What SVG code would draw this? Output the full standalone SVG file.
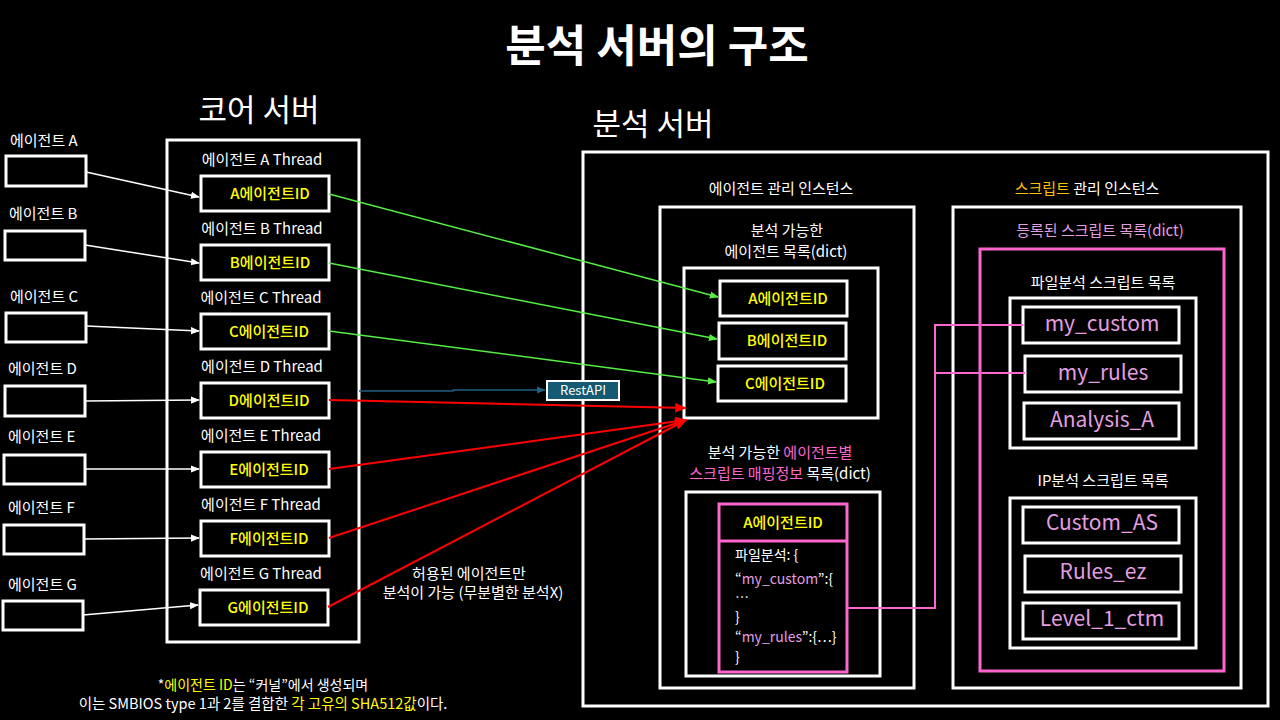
<svg xmlns="http://www.w3.org/2000/svg" width="1280" height="720" viewBox="0 0 1280 720">
<defs>
<style>
text{font-family:"Noto Sans CJK KR","Noto Sans",sans-serif;fill:#fff;}
.box{fill:#000;stroke:#fff;stroke-width:3;}
.pbox{fill:none;stroke:#ff66cc;stroke-width:3;}
.lbl{font-size:15px;}
.mid{text-anchor:middle;}
.yid{font-size:15px;fill:#ffff00;text-anchor:middle;font-weight:500;}
.scr{font-size:21px;fill:#e29ee0;text-anchor:middle;}
.plum{fill:#e29ee0;}
.pink{fill:#ff66cc;}
.code{font-size:14px;}
</style>
<marker id="aw" viewBox="0 0 10 10" refX="9" refY="5" markerWidth="6" markerHeight="6" orient="auto"><path d="M0,1 L10,5 L0,9 z" fill="#fff"/></marker>
<marker id="ag" viewBox="0 0 10 10" refX="9" refY="5" markerWidth="6" markerHeight="6" orient="auto"><path d="M0,1 L10,5 L0,9 z" fill="#55ee44"/></marker>
<marker id="ar" viewBox="0 0 10 10" refX="9" refY="5" markerWidth="6" markerHeight="6" orient="auto"><path d="M0,1 L10,5 L0,9 z" fill="#ff0000"/></marker>
<marker id="ab" viewBox="0 0 10 10" refX="9" refY="5" markerWidth="6" markerHeight="6" orient="auto"><path d="M0,1 L10,5 L0,9 z" fill="#1f5f80"/></marker>
</defs>
<rect width="1280" height="720" fill="#000"/>

<text x="657" y="62" class="mid" font-size="44" font-weight="700">분석 서버의 구조</text>

<g id="core-server">
<text x="259" y="121" class="mid" font-size="31">코어 서버</text>
<rect x="167" y="140" width="192" height="502" class="box"/>
</g>

<g id="agents">
<g id="agent-a"><text x="10" y="146" class="lbl">에이전트 A</text><rect x="6" y="156" width="80" height="30" class="box"/></g>
<g id="agent-b"><text x="9" y="219" class="lbl">에이전트 B</text><rect x="5" y="231" width="80" height="29" class="box"/></g>
<g id="agent-c"><text x="10" y="302" class="lbl">에이전트 C</text><rect x="6" y="313" width="80" height="29" class="box"/></g>
<g id="agent-d"><text x="8" y="374" class="lbl">에이전트 D</text><rect x="5" y="386" width="80" height="30" class="box"/></g>
<g id="agent-e"><text x="8" y="442" class="lbl">에이전트 E</text><rect x="4" y="455" width="81" height="29" class="box"/></g>
<g id="agent-f"><text x="8" y="513" class="lbl">에이전트 F</text><rect x="4" y="525" width="80" height="29" class="box"/></g>
<g id="agent-g"><text x="8" y="590" class="lbl">에이전트 G</text><rect x="3" y="601" width="80" height="29" class="box"/></g>
</g>

<g id="threads">
<g id="thread-a"><text x="262" y="165" class="lbl mid">에이전트 A Thread</text><rect x="201" y="176" width="128" height="35" class="box"/><text x="270" y="199" class="yid">A에이전트ID</text></g>
<g id="thread-b"><text x="262" y="234" class="lbl mid">에이전트 B Thread</text><rect x="201" y="245" width="128" height="35" class="box"/><text x="270" y="268" class="yid">B에이전트ID</text></g>
<g id="thread-c"><text x="261" y="303" class="lbl mid">에이전트 C Thread</text><rect x="201" y="314" width="128" height="35" class="box"/><text x="269" y="337" class="yid">C에이전트ID</text></g>
<g id="thread-d"><text x="262" y="372" class="lbl mid">에이전트 D Thread</text><rect x="201" y="383" width="128" height="35" class="box"/><text x="269" y="406" class="yid">D에이전트ID</text></g>
<g id="thread-e"><text x="261" y="441" class="lbl mid">에이전트 E Thread</text><rect x="201" y="452" width="128" height="35" class="box"/><text x="269" y="475" class="yid">E에이전트ID</text></g>
<g id="thread-f"><text x="261" y="510" class="lbl mid">에이전트 F Thread</text><rect x="201" y="521" width="128" height="35" class="box"/><text x="269" y="544" class="yid">F에이전트ID</text></g>
<g id="thread-g"><text x="261" y="579" class="lbl mid">에이전트 G Thread</text><rect x="200" y="590" width="128" height="35" class="box"/><text x="268" y="613" class="yid">G에이전트ID</text></g>
</g>

<g id="analysis-server">
<text x="653" y="135" class="mid" font-size="31">분석 서버</text>
<rect x="583" y="152" width="685" height="554" class="box"/>
</g>

<g id="agent-mgmt">
<text x="781" y="194" class="lbl mid">에이전트 관리 인스턴스</text>
<rect x="660" y="207" width="254" height="481" class="box"/>
<text x="787" y="236" class="lbl mid">분석 가능한</text>
<text x="786" y="257" class="lbl mid">에이전트 목록(dict)</text>
<rect x="684" y="268" width="194" height="150" class="box"/>
<g id="list-a"><rect x="720" y="281" width="127" height="35" class="box"/><text x="788" y="304" class="yid">A에이전트ID</text></g>
<g id="list-b"><rect x="719" y="323" width="127" height="36" class="box"/><text x="787" y="346" class="yid">B에이전트ID</text></g>
<g id="list-c"><rect x="718" y="366" width="128" height="35" class="box"/><text x="785" y="389" class="yid">C에이전트ID</text></g>
<text x="780" y="458" class="lbl mid">분석 가능한 <tspan class="pink">에이전트별</tspan></text>
<text x="780" y="479" class="lbl mid"><tspan class="pink">스크립트 매핑정보</tspan> 목록(dict)</text>
<rect x="686" y="492" width="194" height="184" class="box"/>
<g id="mapping-a">
<rect x="719" y="504" width="128" height="168" class="pbox"/>
<line x1="719" y1="541" x2="847" y2="541" stroke="#ff66cc" stroke-width="3"/>
<text x="783" y="528" class="yid">A에이전트ID</text>
<text x="735" y="560" class="code">파일분석: {</text>
<text x="735" y="584" class="code">“<tspan class="plum">my_custom</tspan>”:{</text>
<text x="735" y="602" class="code">…</text>
<text x="735" y="622" class="code">}</text>
<text x="735" y="642" class="code">“<tspan class="plum">my_rules</tspan>”:{⋯}</text>
<text x="735" y="662" class="code">}</text>
</g>
</g>

<g id="script-mgmt">
<text x="1087" y="194" class="lbl mid"><tspan fill="#ffc000">스크립트</tspan> 관리 인스턴스</text>
<rect x="953" y="207" width="288" height="481" class="box"/>
<text x="1100" y="236" class="lbl mid plum">등록된 스크립트 목록(dict)</text>
<rect x="980" y="249" width="244" height="422" class="pbox"/>
<text x="1103" y="288" class="lbl mid">파일분석 스크립트 목록</text>
<rect x="1010" y="298" width="186" height="150" class="box"/>
<g id="s-my-custom"><rect x="1023" y="307" width="156" height="36" class="box"/><text x="1102" y="331" class="scr">my_custom</text></g>
<g id="s-my-rules"><rect x="1025" y="356" width="156" height="36" class="box"/><text x="1103" y="380" class="scr">my_rules</text></g>
<g id="s-analysis-a"><rect x="1024" y="403" width="155" height="36" class="box"/><text x="1102" y="427" class="scr">Analysis_A</text></g>
<text x="1103" y="486" class="lbl mid">IP분석 스크립트 목록</text>
<rect x="1010" y="498" width="186" height="150" class="box"/>
<g id="s-custom-as"><rect x="1023" y="507" width="156" height="36" class="box"/><text x="1102" y="530" class="scr">Custom_AS</text></g>
<g id="s-rules-ez"><rect x="1025" y="556" width="156" height="36" class="box"/><text x="1103" y="579" class="scr">Rules_ez</text></g>
<g id="s-level1"><rect x="1023" y="603" width="156" height="36" class="box"/><text x="1102" y="626" class="scr">Level_1_ctm</text></g>
</g>

<g id="restapi">
<rect x="547" y="381" width="72" height="19" fill="#145a72" stroke="#fff" stroke-width="2"/>
<text x="583" y="395" class="mid" font-size="13">RestAPI</text>
</g>

<g id="connectors" fill="none">
<g stroke="#fff" stroke-width="1.5" marker-end="url(#aw)">
<line x1="86" y1="172" x2="199" y2="197"/>
<line x1="85" y1="245" x2="199" y2="263"/>
<line x1="86" y1="326" x2="199" y2="331"/>
<line x1="85" y1="401" x2="199" y2="400"/>
<line x1="85" y1="469" x2="199" y2="469"/>
<line x1="84" y1="539" x2="199" y2="538"/>
<line x1="83" y1="615" x2="198" y2="605"/>
</g>
<g stroke="#55ee44" stroke-width="1.5" marker-end="url(#ag)">
<line x1="329" y1="194" x2="718" y2="297"/>
<line x1="329" y1="263" x2="717" y2="339"/>
<line x1="329" y1="331" x2="716" y2="382"/>
</g>
<g stroke="#ff0000" stroke-width="2" marker-end="url(#ar)">
<line x1="329" y1="400" x2="686" y2="408"/>
<line x1="329" y1="469" x2="686" y2="420"/>
<line x1="329" y1="538" x2="686" y2="420"/>
<line x1="328" y1="607" x2="686" y2="420"/>
</g>
<path d="M359,391 L453,391 L453,390 L545,390" stroke="#1f5f80" stroke-width="1.5" marker-end="url(#ab)"/>
<path d="M848,608 L935,608 L935,325 L1023,325 M935,373 L1025,373" stroke="#ff66cc" stroke-width="2"/>
</g>

<g id="notes">
<text x="469" y="579" class="lbl mid">허용된 에이전트만</text>
<text x="473" y="598" class="lbl mid">분석이 가능 (무분별한 분석X)</text>
<text x="263" y="690" class="mid" font-size="14">*<tspan fill="#ffff00">에이전트 ID</tspan>는 “커널”에서 생성되며</text>
<text x="263" y="709" class="mid" font-size="14.5">이는 SMBIOS type 1과 2를 결합한 <tspan fill="#ffff00">각 고유의 SHA512값</tspan>이다.</text>
</g>
</svg>
